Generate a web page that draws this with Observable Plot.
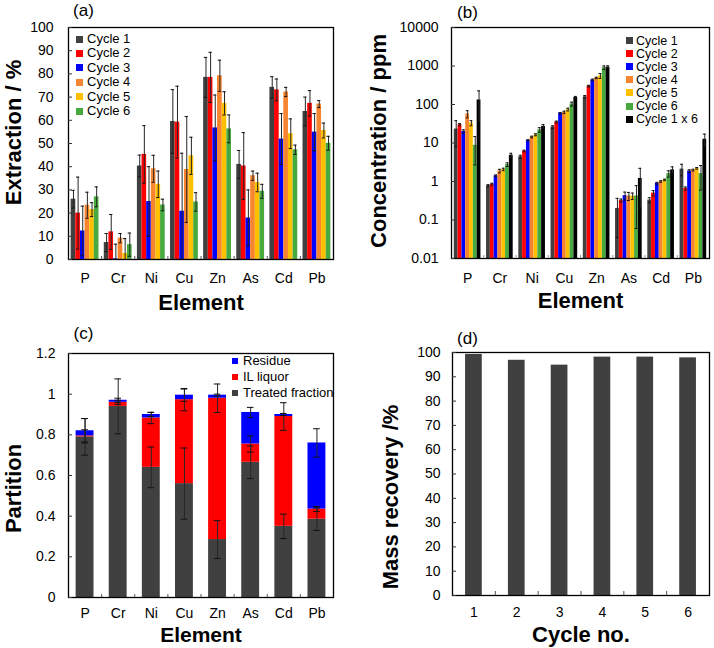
<!DOCTYPE html>
<html>
<head>
<meta charset="utf-8">
<script src="https://cdn.jsdelivr.net/npm/d3@7"></script>
<script src="https://cdn.jsdelivr.net/npm/@observablehq/plot@0.6"></script>
<style>
  html, body { margin: 0; padding: 0; background: #fff; }
  #root { position: relative; width: 714px; height: 648px; overflow: hidden; font-family: "Liberation Sans", Arial, sans-serif; color: #000; }
  .panel { position: absolute; }
  .sq { position: absolute; }
  .lt { position: absolute; white-space: nowrap; line-height: 12px; height: 12px; }
</style>
</head>
<body>
<div id="root"></div>
<script>
// ---------------- DATA ----------------
const elements = ["P", "Cr", "Ni", "Cu", "Zn", "As", "Cd", "Pb"];
const cycleNames = ["Cycle 1", "Cycle 2", "Cycle 3", "Cycle 4", "Cycle 5", "Cycle 6"];
const concSeriesNames = ["Cycle 1", "Cycle 2", "Cycle 3", "Cycle 4", "Cycle 5", "Cycle 6", "Cycle 1 x 6"];

// (a) Extraction / %  (per element: P, Cr, Ni, Cu, Zn, As, Cd, Pb)
const extCycle1 = [26.0, 7.3, 40.3, 59.5, 78.5, 41.0, 74.2, 63.8];
const extCycle2 = [20.0, 11.9, 45.3, 59.2, 78.5, 40.3, 73.1, 67.3];
const extCycle3 = [12.3, 0.3, 25.0, 20.8, 56.7, 17.9, 51.9, 54.9];
const extCycle4 = [23.4, 9.2, 39.1, 38.8, 79.2, 36.1, 72.2, 67.0];
const extCycle5 = [21.5, 2.6, 32.4, 44.7, 67.3, 33.2, 54.2, 55.6];
const extCycle6 = [27.0, 6.4, 23.5, 24.8, 56.3, 29.4, 47.3, 50.1];
const extErr1 = [3.8, 3.9, 4.7, 13.7, 8.6, 6.0, 4.6, 6.2];
const extErr2 = [15.5, 7.5, 12.4, 15.5, 10.8, 14.4, 4.7, 5.5];
const extErr3 = [10.7, 6.3, 15.0, 25.0, 14.2, 12.1, 11.0, 8.0];
const extErr4 = [5.6, 2.0, 5.8, 22.8, 6.7, 2.0, 2.0, 1.5];
const extErr5 = [3.0, 6.4, 5.7, 8.0, 5.0, 4.0, 6.4, 3.2];
const extErr6 = [4.3, 5.0, 2.5, 4.0, 6.0, 3.0, 2.0, 3.0];

// (b) Concentration / ppm
const conc1 = [23, 0.78, 4.4, 26, 159, 0.20, 0.33, 2.1];
const conc2 = [30, 0.85, 6.2, 35, 300, 0.32, 0.50, 0.66];
const conc3 = [20, 1.41, 11.7, 59, 436, 0.43, 0.90, 1.87];
const conc4 = [57, 1.87, 14.3, 63, 490, 0.42, 1.00, 1.98];
const conc5 = [33, 2.06, 16.4, 74, 556, 0.42, 1.10, 2.2];
const conc6 = [8.7, 2.75, 22, 103, 905, 0.42, 1.60, 1.6];
const conc1x6 = [131, 4.8, 27, 152, 930, 1.2, 2.0, 12.5];
const concErr1 = [15, 0.05, 0.4, 2, 12, 0.165, 0.05, 0.7];
const concErr2 = [2, 0.05, 0.3, 2, 15, 0.03, 0.08, 0.06];
const concErr3 = [2, 0.07, 0.5, 3, 20, 0.1, 0.05, 0.15];
const concErr4 = [12, 0.2, 0.7, 4, 20, 0.1, 0.05, 0.1];
const concErr5 = [5, 0.15, 1, 6, 80, 0.08, 0.05, 0.1];
const concErr6 = [6, 0.3, 3, 12, 100, 0.36, 0.3, 1.0];
const concErr1x6 = [95, 0.6, 3, 10, 80, 1.0, 0.4, 4.5];

// (c) Partition
const partitionLayers = ["Residue", "IL liquor", "Treated fraction"];
const treatedFraction = [0.79, 0.94, 0.64, 0.56, 0.285, 0.665, 0.35, 0.385];
const ilLiquor = [0.005, 0.02, 0.243, 0.413, 0.695, 0.09, 0.54, 0.05];
const residue = [0.025, 0.01, 0.017, 0.022, 0.015, 0.155, 0.01, 0.325];
const errTreated = [0.09, 0.135, 0.10, 0.175, 0.093, 0.08, 0.06, 0.055];
const errIL = [0.03, 0.01, 0.028, 0.055, 0.07, 0.04, 0.068, 0.012];
const errResidue = [0.06, 0.01, 0.01, 0.03, 0.005, 0.025, 0.005, 0.07];

// (d) Mass recovery /%
const cycleNos = ["1", "2", "3", "4", "5", "6"];
const massRecovery = [99.2, 96.8, 94.8, 98.1, 98.1, 97.8];

// tick labels
const extractionTicks = [0, 10, 20, 30, 40, 50, 60, 70, 80, 90, 100];
const concTicks = [0.01, 0.1, 1, 10, 100, 1000, 10000];
const concTickLabels = ["0.01", "0.1", "1", "10", "100", "1000", "10000"];
const partitionTicks = [0, 0.2, 0.4, 0.6, 0.8, 1, 1.2];
const partitionTickLabels = ["0", "0.2", "0.4", "0.6", "0.8", "1", "1.2"];
const recoveryTicks = [0, 10, 20, 30, 40, 50, 60, 70, 80, 90, 100];

// ---------------- STYLE ----------------
const seriesColors = ["#404040", "#ff0000", "#0000ff", "#f7842e", "#ffc000", "#47aa3f", "#000000"];
const layerColors = ["#0000ff", "#ff0000", "#404040"];
const FONT = '"Liberation Sans", Arial, sans-serif';
const root = document.getElementById("root");

function place(svg, left, top) {
  const d = document.createElement("div");
  d.className = "panel";
  d.style.left = left + "px";
  d.style.top = top + "px";
  d.appendChild(svg);
  root.appendChild(d);
}
function legend(names, colors, {sqLeft, textLeft, top, step, size, font}) {
  names.forEach((n, i) => {
    const cy = top + i * step;
    const s = document.createElement("div");
    s.className = "sq";
    Object.assign(s.style, {left: sqLeft + "px", top: (cy - size / 2) + "px", width: size + "px", height: size + "px", background: colors[i]});
    root.appendChild(s);
    const t = document.createElement("div");
    t.className = "lt";
    t.textContent = n;
    Object.assign(t.style, {left: textLeft + "px", top: (cy - 6) + "px", fontSize: font + "px"});
    root.appendChild(t);
  });
}
function errorMarks(data, xc, lo, hi, cap, minLo) {
  return [
    Plot.ruleX(data, {x: xc, y1: lo, y2: hi, stroke: "#262626", strokeWidth: 1}),
    Plot.ruleY(data, {y: hi, x1: d => xc(d) - cap, x2: d => xc(d) + cap, stroke: "#111", strokeWidth: 1}),
    Plot.ruleY(data.filter(d => lo(d) > minLo), {y: lo, x1: d => xc(d) - cap, x2: d => xc(d) + cap, stroke: "#111", strokeWidth: 1})
  ];
}
function titles({panel, yTitle, xTitle, pdx, pdy, ydx, ydy, xdy, xfs = 22}) {
  return [
    Plot.text([panel], {text: d => d, frameAnchor: "top-left", dx: pdx, dy: pdy, fontSize: 17, textAnchor: "middle", lineAnchor: "middle"}),
    Plot.text([yTitle], {text: d => d, frameAnchor: "left", dx: ydx, dy: ydy, rotate: -90, fontSize: 22, fontWeight: "bold", textAnchor: "middle", lineAnchor: "middle"}),
    Plot.text([xTitle], {text: d => d, frameAnchor: "bottom", dy: xdy, fontSize: xfs, fontWeight: "bold", textAnchor: "middle", lineAnchor: "middle"})
  ];
}
const groupCenters = elements.map((e, i) => i + 1);
const groupBounds = elements.slice(1).map((e, i) => i + 1.5);

// ---------------- (a) ----------------
{
  const vals = [extCycle1, extCycle2, extCycle3, extCycle4, extCycle5, extCycle6];
  const errs = [extErr1, extErr2, extErr3, extErr4, extErr5, extErr6];
  const w = 0.14;
  const data = [];
  vals.forEach((arr, si) => arr.forEach((v, ei) => data.push({series: cycleNames[si], si, ei, v, e: errs[si][ei]})));
  const xc = d => d.ei + 1 + (d.si - (vals.length - 1) / 2) * w;
  const svg = Plot.plot({
    width: 357, height: 324, marginLeft: 68, marginRight: 24, marginTop: 27, marginBottom: 65,
    style: {fontFamily: FONT, fontSize: "14px", color: "#000", background: "transparent"},
    x: {type: "linear", domain: [0.5, 8.5]},
    y: {type: "linear", domain: [0, 100]},
    color: {domain: cycleNames, range: seriesColors.slice(0, 6)},
    marks: [
      Plot.rectY(data, {x1: d => xc(d) - w / 2, x2: d => xc(d) + w / 2, y1: 0, y2: "v", fill: "series"}),
      ...errorMarks(data, xc, d => Math.max(0, d.v - d.e), d => d.v + d.e, 0.05, 0),
      Plot.frame({stroke: "#000", strokeWidth: 1.3}),
      Plot.axisY(extractionTicks, {label: null, tickSize: -4, tickPadding: 19, fontSize: 14, stroke: "#333"}),
      Plot.axisX(groupCenters, {label: null, tickSize: 0, tickPadding: 14, fontSize: 14, tickFormat: d => elements[d - 1]}),
      Plot.axisX(groupBounds, {label: null, tickSize: -3, tickFormat: () => "", stroke: "#555"}),
      ...titles({panel: "(a)", yTitle: "Extraction / %", xTitle: "Element", pdx: 15, pdy: -17, ydx: -55, ydy: -11, xdy: 43})
    ]
  });
  place(svg, 0, 0);
  legend(cycleNames, seriesColors, {sqLeft: 76, textLeft: 87, top: 39, step: 14.45, size: 7, font: 13});
}

// ---------------- (b) ----------------
{
  const vals = [conc1, conc2, conc3, conc4, conc5, conc6, conc1x6];
  const errs = [concErr1, concErr2, concErr3, concErr4, concErr5, concErr6, concErr1x6];
  const w = 0.118;
  const data = [];
  vals.forEach((arr, si) => arr.forEach((v, ei) => data.push({series: concSeriesNames[si], si, ei, v, e: errs[si][ei]})));
  const xc = d => d.ei + 1 + (d.si - (vals.length - 1) / 2) * w;
  const svg = Plot.plot({
    width: 357, height: 324, marginLeft: 94, marginRight: 5, marginTop: 27, marginBottom: 66,
    style: {fontFamily: FONT, fontSize: "14px", color: "#000", background: "transparent"},
    x: {type: "linear", domain: [0.5, 8.5]},
    y: {type: "log", domain: [0.01, 10000]},
    color: {domain: concSeriesNames, range: seriesColors},
    marks: [
      Plot.rectY(data, {x1: d => xc(d) - w / 2, x2: d => xc(d) + w / 2, y1: 0.01, y2: "v", fill: "series"}),
      ...errorMarks(data, xc, d => Math.max(0.0101, d.v - d.e), d => d.v + d.e, 0.045, 0.0102),
      Plot.frame({stroke: "#000", strokeWidth: 1.3}),
      Plot.axisY(concTicks, {label: null, tickSize: -4, tickPadding: 17, fontSize: 14, stroke: "#333", tickFormat: d => concTickLabels[concTicks.indexOf(d)]}),
      Plot.axisX(groupCenters, {label: null, tickSize: 0, tickPadding: 15, fontSize: 14, tickFormat: d => elements[d - 1]}),
      Plot.axisX(groupBounds, {label: null, tickSize: -3, tickFormat: () => "", stroke: "#999"}),
      ...titles({panel: "(b)", yTitle: "Concentration / ppm", xTitle: "Element", pdx: 16, pdy: -15, ydx: -73, ydy: -2, xdy: 42})
    ]
  });
  place(svg, 357, 0);
  legend(concSeriesNames, seriesColors, {sqLeft: 626, textLeft: 636, top: 40.5, step: 13.1, size: 7, font: 12.5});
}

// ---------------- (c) ----------------
{
  const w = 0.54;
  const data = [];
  elements.forEach((el, i) => {
    const t = treatedFraction[i], l = ilLiquor[i], r = residue[i];
    data.push({ei: i, layer: "Treated fraction", y1: 0, y2: t, e: errTreated[i]});
    data.push({ei: i, layer: "IL liquor", y1: t, y2: t + l, e: errIL[i]});
    data.push({ei: i, layer: "Residue", y1: t + l, y2: t + l + r, e: errResidue[i]});
  });
  const xc = d => d.ei + 1;
  const svg = Plot.plot({
    width: 357, height: 324, marginLeft: 68, marginRight: 24, marginTop: 29, marginBottom: 51,
    style: {fontFamily: FONT, fontSize: "14px", color: "#000", background: "transparent"},
    x: {type: "linear", domain: [0.5, 8.5]},
    y: {type: "linear", domain: [0, 1.2]},
    color: {domain: partitionLayers, range: layerColors},
    marks: [
      Plot.rectY(data, {x1: d => xc(d) - w / 2, x2: d => xc(d) + w / 2, y1: "y1", y2: "y2", fill: "layer"}),
      ...errorMarks(data, xc, d => Math.max(0, d.y2 - d.e), d => d.y2 + d.e, 0.1, 0),
      Plot.frame({stroke: "#000", strokeWidth: 1.3}),
      Plot.axisY(partitionTicks, {label: null, tickSize: -4, tickPadding: 17, fontSize: 14, stroke: "#333", tickFormat: d => partitionTickLabels[partitionTicks.indexOf(d)]}),
      Plot.axisX(groupCenters, {label: null, tickSize: 0, tickPadding: 11, fontSize: 14, tickFormat: d => elements[d - 1]}),
      Plot.axisX(groupBounds, {label: null, tickSize: -3, tickFormat: () => "", stroke: "#555"}),
      ...titles({panel: "(c)", yTitle: "Partition", xTitle: "Element", pdx: 15, pdy: -20, ydx: -55, ydy: 13, xdy: 38, xfs: 21})
    ]
  });
  place(svg, 0, 324);
  legend(partitionLayers, layerColors, {sqLeft: 232, textLeft: 243, top: 361, step: 15.8, size: 6, font: 13});
}

// ---------------- (d) ----------------
{
  const w = 0.39;
  const data = massRecovery.map((v, i) => ({i, v}));
  const centers = cycleNos.map((c, i) => i + 1);
  const bounds = cycleNos.slice(1).map((c, i) => i + 1.5);
  const svg = Plot.plot({
    width: 357, height: 324, marginLeft: 95, marginRight: 5, marginTop: 28, marginBottom: 53,
    style: {fontFamily: FONT, fontSize: "14px", color: "#000", background: "transparent"},
    x: {type: "linear", domain: [0.5, 6.5]},
    y: {type: "linear", domain: [0, 100]},
    marks: [
      Plot.rectY(data, {x1: d => d.i + 1 - w / 2, x2: d => d.i + 1 + w / 2, y1: 0, y2: "v", fill: "#404040"}),
      Plot.frame({stroke: "#000", strokeWidth: 1.3}),
      Plot.axisY(recoveryTicks, {label: null, tickSize: -4, tickPadding: 16, fontSize: 14, stroke: "#333"}),
      Plot.axisX(centers, {label: null, tickSize: 0, tickPadding: 12, fontSize: 14, tickFormat: d => cycleNos[d - 1]}),
      Plot.axisX(bounds, {label: null, tickSize: -4, tickFormat: () => "", stroke: "#555"}),
      ...titles({panel: "(d)", yTitle: "Mass recovery /%", xTitle: "Cycle no.", pdx: 15, pdy: -14, ydx: -62, ydy: 23, xdy: 39})
    ]
  });
  place(svg, 357, 324);
}
</script>
</body>
</html>
